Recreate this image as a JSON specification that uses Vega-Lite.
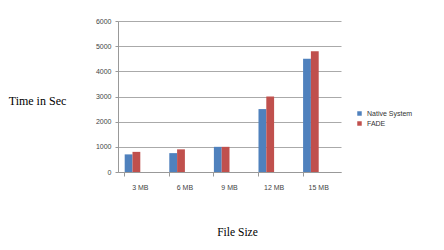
{
  "$schema": "https://vega.github.io/schema/vega-lite/v6.json",
  "autosize": "none",
  "width": 223,
  "height": 151,
  "padding": {"left": 118, "top": 21, "right": 103, "bottom": 78},
  "background": "white",
  "config": {
    "view": {"stroke": null},
    "font": "Liberation Sans"
  },
  "data": {
    "values": [
      {"size": "3 MB", "series": "Native System", "time": 700},
      {"size": "3 MB", "series": "FADE", "time": 800},
      {"size": "6 MB", "series": "Native System", "time": 750},
      {"size": "6 MB", "series": "FADE", "time": 900},
      {"size": "9 MB", "series": "Native System", "time": 1000},
      {"size": "9 MB", "series": "FADE", "time": 1000},
      {"size": "12 MB", "series": "Native System", "time": 2500},
      {"size": "12 MB", "series": "FADE", "time": 3000},
      {"size": "15 MB", "series": "Native System", "time": 4500},
      {"size": "15 MB", "series": "FADE", "time": 4800}
    ]
  },
  "mark": {"type": "bar"},
  "encoding": {
    "x": {
      "field": "size",
      "type": "nominal",
      "sort": ["3 MB", "6 MB", "9 MB", "12 MB", "15 MB"],
      "scale": {"paddingInner": 0.3, "paddingOuter": 0.15},
      "axis": {
        "title": "File Size",
        "titleFont": "Liberation Serif",
        "titleFontSize": 11.5,
        "titleFontWeight": "normal",
        "titleColor": "#000000",
        "titleX": 119,
        "titleY": 60,
        "titleAlign": "center",
        "titleBaseline": "middle",
        "labelAngle": 0,
        "labelFontSize": 7,
        "labelColor": "#444444",
        "labelPadding": 7,
        "bandPosition": 0,
        "ticks": true,
        "tickSize": 4,
        "tickColor": "#999999",
        "domainColor": "#999999",
        "grid": false
      }
    },
    "xOffset": {
      "field": "series",
      "type": "nominal",
      "scale": {"domain": ["Native System", "FADE", "pad1", "pad2"]}
    },
    "y": {
      "field": "time",
      "type": "quantitative",
      "scale": {"domain": [0, 6000]},
      "axis": {
        "title": "Time in Sec",
        "titleFont": "Liberation Serif",
        "titleFontSize": 12,
        "titleFontWeight": "normal",
        "titleColor": "#000000",
        "titleAngle": 0,
        "titleX": -81,
        "titleY": 79,
        "titleAlign": "center",
        "titleBaseline": "middle",
        "values": [0, 1000, 2000, 3000, 4000, 5000, 6000],
        "format": "d",
        "labelFontSize": 7,
        "labelColor": "#444444",
        "labelPadding": 4,
        "tickSize": 3,
        "tickColor": "#999999",
        "domainColor": "#999999",
        "gridColor": "#AAAAAA",
        "gridWidth": 1
      }
    },
    "color": {
      "field": "series",
      "type": "nominal",
      "sort": ["Native System", "FADE"],
      "scale": {"domain": ["Native System", "FADE"], "range": ["#4F81BD", "#C0504D"]},
      "legend": {
        "title": null,
        "orient": "none",
        "legendX": 238,
        "legendY": 89,
        "symbolType": "square",
        "symbolSize": 20,
        "symbolStrokeWidth": 0,
        "labelFontSize": 7,
        "labelColor": "#333333",
        "rowPadding": 2,
        "labelOffset": 4
      }
    }
  }
}
